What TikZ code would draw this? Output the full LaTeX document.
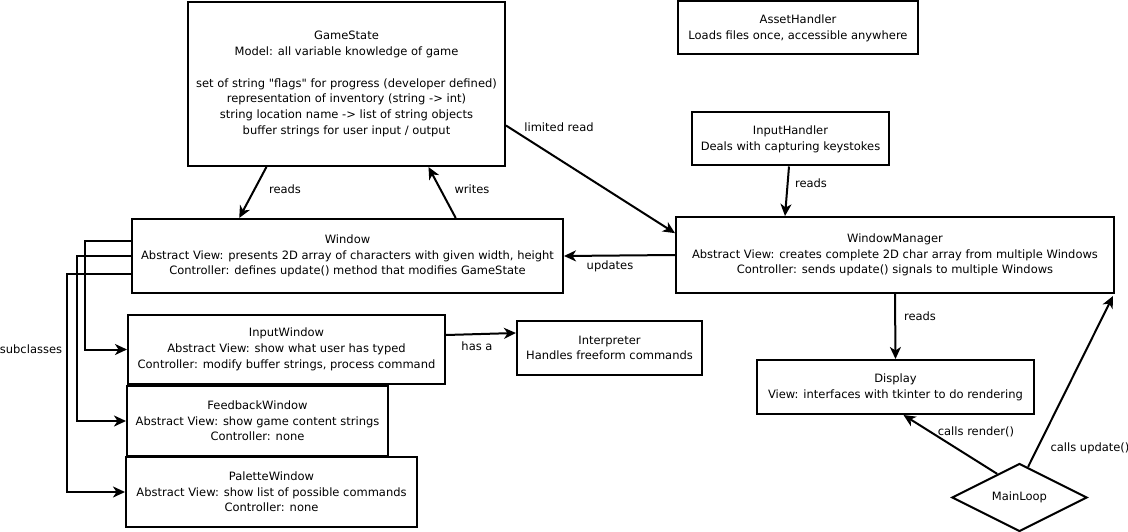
\documentclass[tikz,border=0pt]{standalone}
\usepackage{fontspec}
\setmainfont{DejaVu Sans}[Ligatures=TeXOff]
\usetikzlibrary{arrows.meta,shapes.geometric,calc}
\tikzset{
  box/.style={draw=black, line width=2pt, fill=white, inner sep=0pt, align=center, font=\fontsize{11.5}{15.7}\selectfont},
  lbl/.style={inner sep=0pt, font=\fontsize{11.5}{15.7}\selectfont},
  conn/.style={line width=2pt, -{Stealth[length=12pt,width=11pt,inset=3.5pt]}},
}
\begin{document}
\begin{tikzpicture}[x=1pt,y=-1pt]
\useasboundingbox (0,0) rectangle (1128,532);
% boxes
\node[box, minimum width=317pt, minimum height=164pt] (gs) at (346.5,84) {GameState\\Model: all variable knowledge of game\\[15.7pt]set of string "flags" for progress (developer defined)\\representation of inventory (string -> int)\\string location name -> list of string objects\\buffer strings for user input / output};
\node[box, minimum width=240pt, minimum height=53pt] (ah) at (798,28) {AssetHandler\\Loads files once, accessible anywhere};
\node[box, minimum width=197pt, minimum height=53pt] (ih) at (790.5,139) {InputHandler\\Deals with capturing keystokes};
\node[box, minimum width=431pt, minimum height=74pt] (win) at (347.5,256) {Window\\Abstract View: presents 2D array of characters with given width, height\\Controller: defines update() method that modifies GameState};
\node[box, minimum width=438pt, minimum height=76pt] (wm) at (895,255) {WindowManager\\Abstract View: creates complete 2D char array from multiple Windows\\Controller: sends update() signals to multiple Windows};
\node[box, minimum width=317pt, minimum height=69pt] (iw) at (286.5,349.5) {InputWindow\\Abstract View: show what user has typed\\Controller: modify buffer strings, process command};
\node[box, minimum width=185pt, minimum height=54pt] (interp) at (609.5,348) {Interpreter\\Handles freeform commands};
\node[box, minimum width=261pt, minimum height=70pt] (fw) at (257.5,421) {FeedbackWindow\\Abstract View: show game content strings\\Controller: none};
\node[box, minimum width=291pt, minimum height=70pt] (pw) at (271.5,492) {PaletteWindow\\Abstract View: show list of possible commands\\Controller: none};
\node[box, minimum width=277pt, minimum height=54pt] (disp) at (895.5,387) {Display\\View: interfaces with tkinter to do rendering};
\node[box, shape=diamond, minimum width=135pt, minimum height=68pt, aspect=2] (ml) at (1019.5,497.5) {MainLoop};
% connectors
\draw[conn] ($(gs.south west)!0.249!(gs.south east)$) -- ($(win.north west)!0.25!(win.north east)$);
\draw[conn] ($(win.north west)!0.75!(win.north east)$) -- ($(gs.south west)!0.757!(gs.south east)$);
\draw[conn] ($(gs.north east)!0.75!(gs.south east)$) -- ($(wm.north west)!0.22!(wm.south west)$);
\draw[conn] ($(ih.south west)+(98,0)$) -- ($(wm.north west)+(110,0)$);
\draw[conn] (wm.west) -- (win.east);
\draw[conn] (wm.south) -- (disp.north);
\draw[conn] ($(ml.north west)!0.35!(ml.north)$) -- ($(disp.south)+(8,0)$);
\draw[conn] ($(ml.north)!0.25!(ml.north east)$) -- ($(wm.south east)+(-2,2)$);
\draw[conn] ($(iw.north east)+(0,21)$) -- ($(interp.north west)+(0,13)$);
\draw[conn] ($(win.north west)+(0,23)$) -| ($(iw.west)+(-42,0)$) -- (iw.west);
\draw[conn] ($(win.north west)+(0,38)$) -| ($(fw.west)+(-49,0)$) -- (fw.west);
\draw[conn] ($(win.north west)+(0,56)$) -| ($(pw.west)+(-58,0)$) -- (pw.west);
% labels
\node[lbl] (l1) at (285,189) {reads};
\node[lbl] (l2) at (472,189) {writes};
\node[lbl] (l3) at (559,127) {limited read};
\node[lbl] (l4) at (811,183) {reads};
\node[lbl] (l5) at (610,266) {updates};
\node[lbl] (l6) at (920,316) {reads};
\node[lbl] (l7) at (976,432) {calls render()};
\node[lbl] (l8) at (1090,448) {calls update()};
\node[lbl] (l9) at (477,346) {has a};
\node[lbl] (l10) at (31,349) {subclasses};
\end{tikzpicture}
\end{document}
